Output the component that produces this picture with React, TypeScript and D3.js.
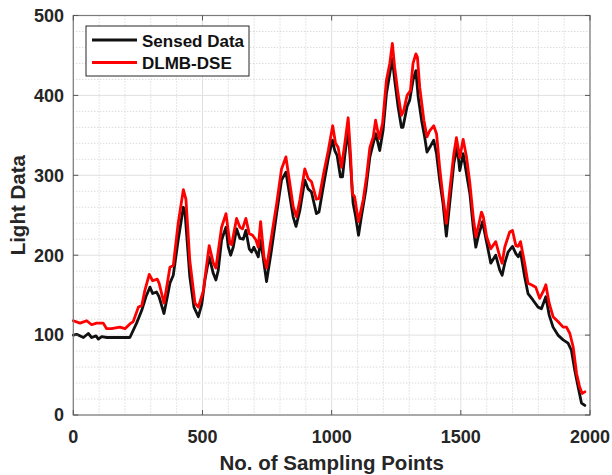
import React from "react";
import * as d3 from "d3";

const sensedX = [0,13,39,58,71,88,97,110,130,219,245,265,281,297,307,322,332,351,364,374,387,406,426,432,451,467,484,497,510,526,542,552,561,574,591,600,609,619,632,645,658,668,681,690,699,716,725,738,748,767,787,806,823,836,851,862,877,896,909,922,941,951,970,987,1003,1012,1021,1034,1042,1051,1064,1073,1083,1093,1104,1115,1132,1148,1161,1171,1186,1199,1212,1225,1235,1244,1257,1270,1276,1292,1302,1315,1326,1335,1348,1360,1369,1380,1395,1406,1418,1431,1444,1457,1473,1486,1496,1509,1522,1535,1548,1558,1567,1584,1600,1616,1635,1651,1660,1670,1683,1700,1713,1722,1731,1747,1760,1779,1799,1812,1829,1842,1857,1876,1896,1915,1928,1941,1954,1967,1980];
const sensedY = [100,101,97,102,97,99,95,98,97,97,115,131,148,160,152,154,148,127,148,165,175,219,260,255,173,135,123,138,170,198,177,169,181,219,235,210,200,210,233,221,220,231,208,204,210,198,219,190,167,206,252,294,304,278,248,236,256,294,283,279,252,254,290,321,344,331,325,298,298,325,358,315,265,248,225,248,281,323,340,352,331,356,402,427,446,419,386,360,360,386,394,419,431,398,369,348,329,335,344,327,294,265,224,265,315,335,306,327,302,277,235,210,223,242,216,190,200,181,175,190,204,211,202,198,204,173,152,144,135,133,148,125,110,100,94,90,81,56,35,15,12];

const dlmbX = [0,26,52,71,90,116,129,148,180,200,219,232,252,265,277,294,307,325,332,351,364,374,387,406,426,436,451,471,484,503,513,526,542,552,574,591,606,613,632,645,655,668,681,694,707,716,725,738,748,767,787,806,823,838,851,864,877,896,909,922,941,951,970,987,1004,1015,1025,1038,1051,1064,1073,1080,1089,1104,1122,1135,1148,1161,1170,1184,1197,1212,1225,1235,1244,1257,1270,1279,1292,1305,1315,1326,1332,1341,1357,1369,1380,1395,1406,1418,1431,1444,1457,1473,1483,1496,1509,1522,1535,1548,1558,1567,1580,1587,1600,1616,1635,1651,1660,1670,1689,1700,1713,1722,1731,1747,1760,1773,1790,1805,1818,1829,1842,1857,1876,1896,1909,1922,1935,1948,1960,1970,1980];
const dlmbY = [118,115,118,113,115,115,108,108,110,108,114,117,135,137,156,176,168,170,165,140,165,185,187,240,282,270,193,140,135,155,180,212,190,184,235,252,215,213,246,235,233,246,227,225,219,210,242,198,184,223,264,308,323,290,261,248,269,308,296,292,270,271,304,331,362,340,335,310,340,372,327,277,273,242,269,298,335,348,369,346,365,419,440,465,435,402,375,381,400,406,440,452,448,410,369,348,356,362,352,310,273,240,281,327,347,322,345,323,290,248,223,235,254,248,223,208,217,198,190,210,229,231,212,211,217,190,165,163,160,146,154,163,140,123,117,110,110,102,85,52,35,27,29];

const xTicks = [0, 500, 1000, 1500, 2000];
const yTicks = [0, 100, 200, 300, 400, 500];
const xMinor = d3.range(0, 2001, 100);
const yMinor = d3.range(0, 501, 20);
const seriesNames = ["Sensed Data", "DLMB-DSE"];
const seriesColors = ["#111111", "#ff0000"];

const W = 612, H = 475;
const L = 73.3, R = 590, T = 15.5, B = 415;
const FONT = "'Liberation Sans', Arial, Helvetica, sans-serif";

export default function App() {
  const x = d3.scaleLinear().domain([0, 2000]).range([L, R]);
  const y = d3.scaleLinear().domain([0, 500]).range([B, T]);
  const line = d3.line<[number, number]>().x(d => x(d[0])).y(d => y(d[1]));
  const sensed = sensedX.map((v, i) => [v, sensedY[i]] as [number, number]);
  const dlmb = dlmbX.map((v, i) => [v, dlmbY[i]] as [number, number]);
  const series = [sensed, dlmb];
  const tickLen = 5;
  const textColor = "#262626";
  return (
    <svg width={W} height={H} style={{ position: "absolute", left: 0, top: 0, background: "#fff" }}>
      <rect x={0} y={0} width={W} height={H} fill="#fff" />
      {xMinor.filter(v => v % 500 !== 0).map(v => (
        <line key={"xm" + v} x1={x(v)} x2={x(v)} y1={T} y2={B} stroke="#cccccc" strokeWidth={1} strokeDasharray="1,2" />
      ))}
      {yMinor.filter(v => v % 100 !== 0).map(v => (
        <line key={"ym" + v} x1={L} x2={R} y1={y(v)} y2={y(v)} stroke="#cccccc" strokeWidth={1} strokeDasharray="1,2" />
      ))}
      {xTicks.map(v => (
        <line key={"xg" + v} x1={x(v)} x2={x(v)} y1={T} y2={B} stroke="#e0e0e0" strokeWidth={1} />
      ))}
      {yTicks.map(v => (
        <line key={"yg" + v} x1={L} x2={R} y1={y(v)} y2={y(v)} stroke="#e0e0e0" strokeWidth={1} />
      ))}
      {series.map((s, i) => (
        <path key={"s" + i} d={line(s) || ""} fill="none" stroke={seriesColors[i]} strokeWidth={2.8} strokeLinejoin="round" strokeLinecap="round" />
      ))}
      <rect x={L} y={T} width={R - L} height={B - T} fill="none" stroke="#7a7a7a" strokeWidth={1.2} />
      {xTicks.map(v => (
        <g key={"xt" + v}>
          <line x1={x(v)} x2={x(v)} y1={B} y2={B - tickLen} stroke="#555" strokeWidth={1} />
          <line x1={x(v)} x2={x(v)} y1={T} y2={T + tickLen} stroke="#555" strokeWidth={1} />
          <text x={x(v)} y={443} textAnchor="middle" fontFamily={FONT} fontWeight="bold" fontSize={18} fill={textColor}>{v}</text>
        </g>
      ))}
      {yTicks.map(v => (
        <g key={"yt" + v}>
          <line x1={L} x2={L + tickLen} y1={y(v)} y2={y(v)} stroke="#555" strokeWidth={1} />
          <line x1={R} x2={R - tickLen} y1={y(v)} y2={y(v)} stroke="#555" strokeWidth={1} />
          <text x={64} y={y(v)} dy="0.35em" textAnchor="end" fontFamily={FONT} fontWeight="bold" fontSize={18} fill={textColor}>{v}</text>
        </g>
      ))}
      <text x={(L + R) / 2} y={470} textAnchor="middle" fontFamily={FONT} fontWeight="bold" fontSize={20.5} fill={textColor}>No. of Sampling Points</text>
      <text transform={`translate(25,${(T + B) / 2 - 10}) rotate(-90)`} textAnchor="middle" fontFamily={FONT} fontWeight="bold" fontSize={20.5} fill={textColor}>Light Data</text>
      <rect x={86} y={26} width={163} height={50} fill="#fff" stroke="#262626" strokeWidth={1} />
      {seriesNames.map((n, i) => (
        <g key={"lg" + i}>
          <line x1={92} x2={137} y1={40 + i * 22.5} y2={40 + i * 22.5} stroke={seriesColors[i]} strokeWidth={2.8} />
          <text x={142} y={46.5 + i * 22.5} fontFamily={FONT} fontWeight="bold" fontSize={17} fill="#111">{n}</text>
        </g>
      ))}
    </svg>
  );
}
